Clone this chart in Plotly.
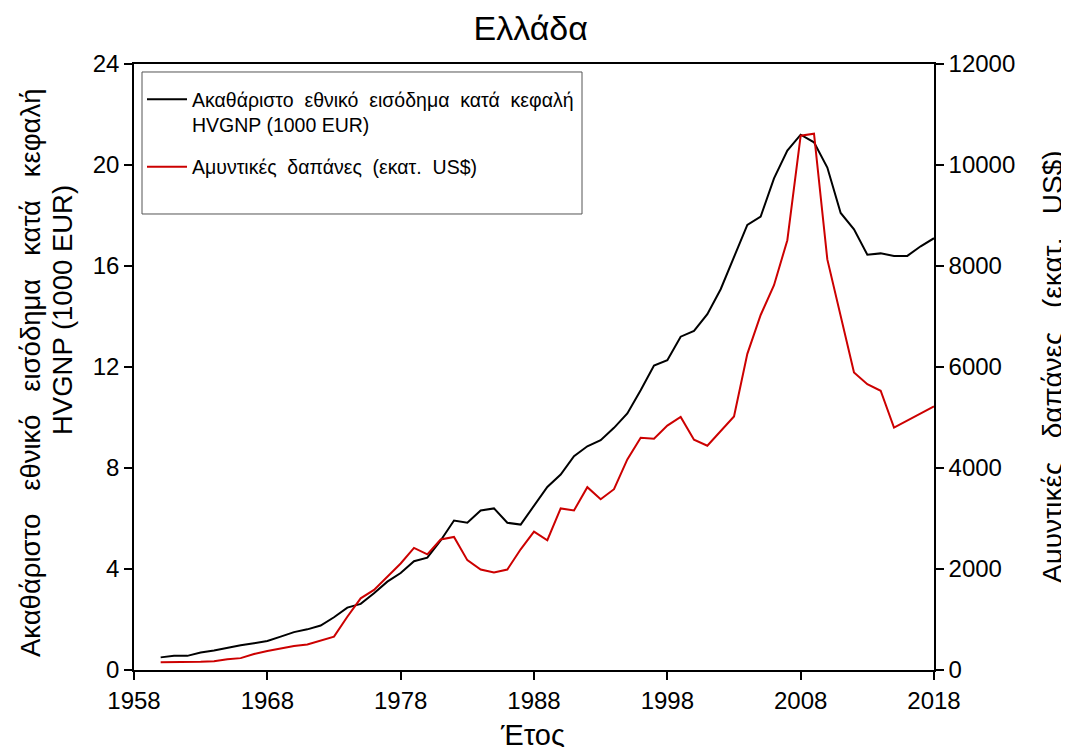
import plotly.graph_objects as go

years = list(range(1960, 2019))

# HVGNP per capita (1000 EUR), left axis
hvgnp = [0.50, 0.56, 0.56, 0.69, 0.77, 0.89, 0.98, 1.06, 1.15, 1.32,
         1.50, 1.61, 1.76, 2.09, 2.47, 2.62, 3.04, 3.50, 3.84, 4.31,
         4.45, 5.13, 5.92, 5.83, 6.32, 6.40, 5.83, 5.76, 6.48, 7.25,
         7.74, 8.47, 8.86, 9.10, 9.59, 10.16, 11.08, 12.06, 12.27, 13.20,
         13.43, 14.09, 15.08, 16.34, 17.63, 17.96, 19.47, 20.57, 21.20, 20.90,
         19.90, 18.10, 17.45, 16.45, 16.50, 16.40, 16.40, 16.78, 17.10]

# defence expenditure (mil. US$), right axis
defence = [153, 153, 153, 165, 175, 215, 235, 315, 375, 430,
           475, 505, 580, 660, 1055, 1420, 1585, 1850, 2110, 2418,
           2290, 2585, 2635, 2175, 1990, 1930, 1990, 2390, 2740, 2570,
           3200, 3160, 3620, 3380, 3580, 4170, 4600, 4580, 4840, 5010,
           4560, 4440, 4740, 5020, 6260, 7030, 7620, 8510, 10580, 10620,
           8130, 6980, 5890, 5660, 5530, 4800, 4940, 5080, 5220]

x_ticks = [1958, 1968, 1978, 1988, 1998, 2008, 2018]
y1_ticks = [0, 4, 8, 12, 16, 20, 24]
y2_ticks = [0, 2000, 4000, 6000, 8000, 10000, 12000]

font_family = "Liberation Sans, Arial, sans-serif"


def spaced(text, n):
    # the reference spreads its words wider than plain spaces do
    return (" " + "\u00a0" * n).join(text.split(" "))


fig = go.Figure()
fig.add_trace(go.Scatter(
    x=years, y=hvgnp,
    name=spaced("Ακαθάριστο εθνικό εισόδημα κατά κεφαλή", 1) + "<br>HVGNP (1000 EUR)",
    legendgroup="a",
    mode="lines", line=dict(color="black", width=2)
))
fig.add_trace(go.Scatter(
    x=years, y=defence, yaxis="y2",
    name=spaced("Αμυντικές δαπάνες (εκατ. US$)", 1),
    legendgroup="b",
    mode="lines", line=dict(color="#cc0000", width=2)
))

axis_common = dict(
    showline=True, linecolor="black", linewidth=1.5,
    ticks="outside", ticklen=8, tickwidth=1.5, tickcolor="black",
    showgrid=False, zeroline=False, automargin=False,
    tickfont=dict(family=font_family, size=24, color="black"),
)

# page body adds 8px, so margins are shifted by 8
fig.update_layout(
    width=1069, height=747,
    paper_bgcolor="white", plot_bgcolor="white",
    margin=dict(l=126, r=143, t=56, b=85),
    font=dict(family=font_family, color="black"),
    title=dict(text="Ελλάδα", x=0.489, xanchor="center",
               y=0.973, yref="container", yanchor="middle",
               font=dict(size=34, family=font_family)),
    xaxis=dict(range=[1958, 2018], tickvals=x_ticks, mirror=True, **axis_common),
    yaxis=dict(range=[0, 24], tickvals=y1_ticks, **axis_common),
    yaxis2=dict(range=[0, 12000], tickvals=y2_ticks, tickformat="d",
                overlaying="y", side="right", **axis_common),
    legend=dict(x=0.01, y=0.9736, xanchor="left", yanchor="top",
                borderwidth=0, bgcolor="rgba(0,0,0,0)",
                font=dict(size=19.5, family=font_family), valign="top",
                traceorder="grouped", tracegroupgap=14, itemwidth=40),
    showlegend=True,
    shapes=[dict(type="rect", xref="paper", yref="paper",
                 x0=0.01, x1=0.56, y0=0.7525, y1=0.9868,
                 line=dict(color="#555555", width=1), fillcolor="white",
                 layer="below")],
    annotations=[
        dict(text=spaced("Ακαθάριστο εθνικό εισόδημα κατά κεφαλή", 2),
             xref="paper", yref="paper", x=-0.13, y=0.49, textangle=-90,
             xanchor="center", yanchor="middle", showarrow=False,
             font=dict(size=27.5)),
        dict(text="HVGNP (1000 EUR)",
             xref="paper", yref="paper", x=-0.09, y=0.594, textangle=-90,
             xanchor="center", yanchor="middle", showarrow=False,
             font=dict(size=27.5)),
        dict(text=spaced("Αμυντικές δαπάνες (εκατ. US$)", 2),
             xref="paper", yref="paper", x=1.1475, y=0.5, textangle=-90,
             xanchor="center", yanchor="middle", showarrow=False,
             font=dict(size=28)),
        dict(text="Έτος",
             xref="paper", yref="paper", x=0.498, y=-0.107,
             xanchor="center", yanchor="middle", showarrow=False,
             font=dict(size=29)),
    ],
)

fig.write_html("out.html")
